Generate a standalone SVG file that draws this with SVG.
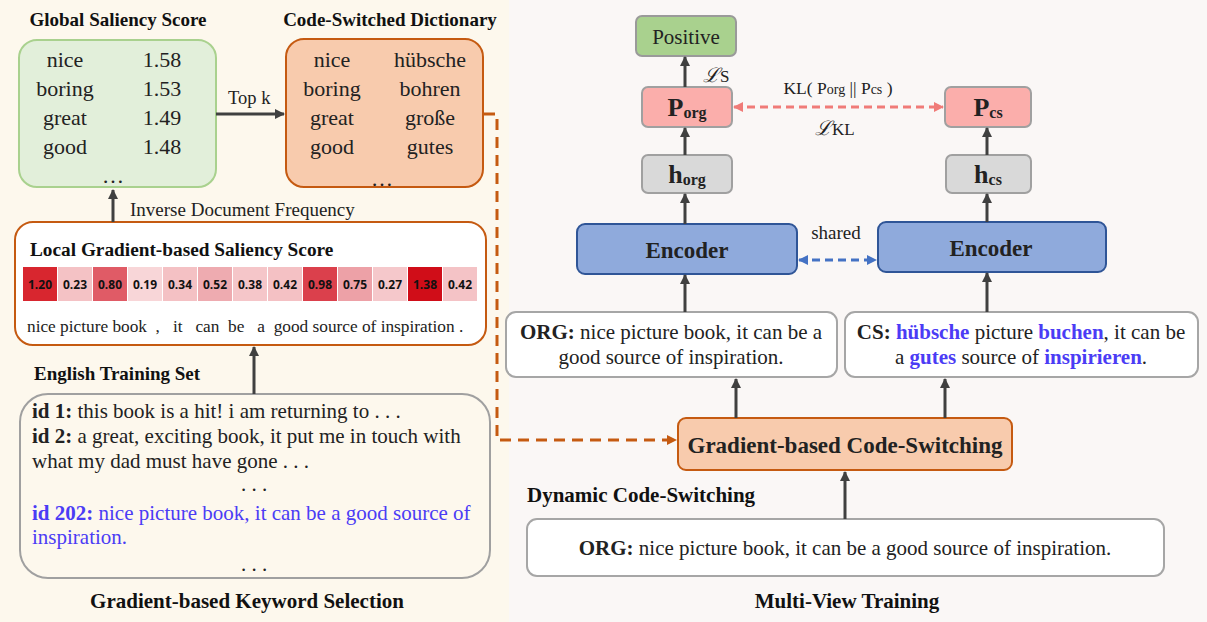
<svg xmlns="http://www.w3.org/2000/svg" width="1207" height="622" viewBox="0 0 1207 622">
<defs>
<marker id="ah" viewBox="0 0 10 10" refX="9" refY="5" markerWidth="10" markerHeight="10" markerUnits="userSpaceOnUse" orient="auto-start-reverse"><path d="M0,0 L10,5 L0,10 z" fill="#404040"/></marker>
<marker id="ahO" viewBox="0 0 10 10" refX="9" refY="5" markerWidth="10" markerHeight="10" markerUnits="userSpaceOnUse" orient="auto-start-reverse"><path d="M0,0 L10,5 L0,10 z" fill="#c55a11"/></marker>
<marker id="ahR" viewBox="0 0 10 10" refX="9" refY="5" markerWidth="10" markerHeight="10" markerUnits="userSpaceOnUse" orient="auto-start-reverse"><path d="M0,0 L10,5 L0,10 z" fill="#f07b78"/></marker>
<marker id="ahB" viewBox="0 0 10 10" refX="9" refY="5" markerWidth="10" markerHeight="10" markerUnits="userSpaceOnUse" orient="auto-start-reverse"><path d="M0,0 L10,5 L0,10 z" fill="#4472c4"/></marker>
</defs>
<style>
text{font-family:"Liberation Serif","Times New Roman",serif;fill:#222}
.t{font-size:21px}
.tb{font-size:19px;font-weight:bold;fill:#111}
.tb2{font-size:21px;font-weight:bold;fill:#111}
.big{font-size:22px}
.b{font-weight:bold}
.blue{fill:#4b3cf5}
.hm{font-family:"Open Sans","Liberation Sans",sans-serif;font-size:12px;font-weight:bold;text-anchor:middle;fill:#111}
.arr{stroke:#404040;stroke-width:3;fill:none}
.gbox{fill:#fff;stroke:#a6a6a6;stroke-width:2}
.mid{text-anchor:middle}
</style>
<rect x="0" y="0" width="509" height="622" fill="#fdf8ed"/>
<rect x="509" y="0" width="698" height="622" fill="#faf7f6"/>

<g id="global-saliency">
<text class="tb" x="118" y="26" text-anchor="middle">Global Saliency Score</text>
<rect x="19" y="40" width="197" height="147" rx="18" fill="#e2efda" stroke="#a9d18e" stroke-width="2"/>
<g class="big">
<text x="65" y="67" class="mid">nice</text><text x="162" y="67" class="mid">1.58</text>
<text x="65" y="96" class="mid">boring</text><text x="162" y="96" class="mid">1.53</text>
<text x="65" y="125" class="mid">great</text><text x="162" y="125" class="mid">1.49</text>
<text x="65" y="154" class="mid">good</text><text x="162" y="154" class="mid">1.48</text>
<text x="113" y="183" class="mid">…</text>
</g>
</g>

<g id="cs-dictionary">
<text class="tb" x="390" y="26" text-anchor="middle">Code-Switched Dictionary</text>
<rect x="286" y="39" width="197" height="148" rx="18" fill="#f8cbad" stroke="#c55a11" stroke-width="2"/>
<g class="big">
<text x="332" y="67" class="mid">nice</text><text x="430" y="67" class="mid">hübsche</text>
<text x="332" y="96" class="mid">boring</text><text x="430" y="96" class="mid">bohren</text>
<text x="332" y="125" class="mid">great</text><text x="430" y="125" class="mid">große</text>
<text x="332" y="154" class="mid">good</text><text x="430" y="154" class="mid">gutes</text>
<text x="382" y="186" class="mid">…</text>
</g>
</g>

<g id="local-saliency">
<rect x="15" y="222" width="471" height="123" rx="18" fill="#fff" stroke="#c55a11" stroke-width="2"/>
<text class="tb" x="30" y="256" style="font-size:19.3px">Local Gradient-based Saliency Score</text>
<g>
<rect x="23" y="267" width="34" height="34" fill="#d8262f"/>
<rect x="58" y="267" width="34" height="34" fill="#f4c2c5"/>
<rect x="93" y="267" width="34" height="34" fill="#e05b66"/>
<rect x="128" y="267" width="34" height="34" fill="#f8d6d8"/>
<rect x="163" y="267" width="34" height="34" fill="#f4c1c4"/>
<rect x="198" y="267" width="34" height="34" fill="#eeabb0"/>
<rect x="233" y="267" width="34" height="34" fill="#f5c6c9"/>
<rect x="268" y="267" width="34" height="34" fill="#f4c1c4"/>
<rect x="303" y="267" width="34" height="34" fill="#db404c"/>
<rect x="338" y="267" width="34" height="34" fill="#eda1a7"/>
<rect x="373" y="267" width="34" height="34" fill="#f5c8cb"/>
<rect x="408" y="267" width="34" height="34" fill="#d00d18"/>
<rect x="443" y="267" width="34" height="34" fill="#f4c3c6"/>
<text class="hm" x="40" y="289">1.20</text>
<text class="hm" x="75" y="289">0.23</text>
<text class="hm" x="110" y="289">0.80</text>
<text class="hm" x="145" y="289">0.19</text>
<text class="hm" x="180" y="289">0.34</text>
<text class="hm" x="215" y="289">0.52</text>
<text class="hm" x="250" y="289">0.38</text>
<text class="hm" x="285" y="289">0.42</text>
<text class="hm" x="320" y="289">0.98</text>
<text class="hm" x="355" y="289">0.75</text>
<text class="hm" x="390" y="289">0.27</text>
<text class="hm" x="425" y="289">1.38</text>
<text class="hm" x="460" y="289">0.42</text>
</g>
<text x="27" y="332" style="font-size:17.3px" xml:space="preserve">nice picture book  ,   it   can  be   a  good source of inspiration .</text>
</g>

<g id="training-set">
<text class="tb" x="34" y="380">English Training Set</text>
<rect x="20" y="394" width="470" height="184" rx="28" fill="#fdf8ed" stroke="#a0a0a0" stroke-width="2"/>
<text class="t" x="32" y="418"><tspan class="b">id 1:</tspan> this book is a hit! i am returning to . . .</text>
<text class="t" x="32" y="443"><tspan class="b">id 2:</tspan> a great, exciting book, it put me in touch with</text>
<text class="t" x="32" y="468">what my dad must have gone . . .</text>
<text class="t mid" x="254" y="491">. . .</text>
<text class="t blue" x="32" y="520"><tspan class="b blue">id 202:</tspan> nice picture book, it can be a good source of</text>
<text class="t blue" x="32" y="544">inspiration.</text>
<text class="t mid" x="254" y="571">. . .</text>
</g>

<text class="tb2" x="247" y="608" text-anchor="middle">Gradient-based Keyword Selection</text>

<g id="positive">
<rect x="636" y="16" width="100" height="40" rx="6" fill="#a9d18e" stroke="#9a9a9a" stroke-width="2"/>
<text x="686" y="44" class="mid" style="font-size:21px">Positive</text>
</g>
<g id="p-org">
<rect x="642" y="87" width="90" height="40" rx="6" fill="#fbaeab" stroke="#a0a0a0" stroke-width="2"/>
<text x="687" y="116" class="mid b" style="font-size:26px">P<tspan style="font-size:16px" dy="2">org</tspan></text>
</g>
<g id="p-cs">
<rect x="945" y="87" width="86" height="40" rx="6" fill="#fbaeab" stroke="#a0a0a0" stroke-width="2"/>
<text x="988" y="116" class="mid b" style="font-size:26px">P<tspan style="font-size:16px" dy="2">cs</tspan></text>
</g>
<g id="h-org">
<rect x="642" y="155" width="90" height="38" rx="6" fill="#d9d9d9" stroke="#a0a0a0" stroke-width="2"/>
<text x="687" y="183" class="mid b" style="font-size:26px">h<tspan style="font-size:16px" dy="2">org</tspan></text>
</g>
<g id="h-cs">
<rect x="946" y="155" width="85" height="38" rx="6" fill="#d9d9d9" stroke="#a0a0a0" stroke-width="2"/>
<text x="988" y="183" class="mid b" style="font-size:26px">h<tspan style="font-size:16px" dy="2">cs</tspan></text>
</g>
<g id="encoder-org">
<rect x="577" y="224" width="220" height="50" rx="8" fill="#8faadc" stroke="#2f5597" stroke-width="2"/>
<text x="687" y="258" class="mid b" style="font-size:23px">Encoder</text>
</g>
<g id="encoder-cs">
<rect x="878" y="222" width="228" height="50" rx="8" fill="#8faadc" stroke="#2f5597" stroke-width="2"/>
<text x="991" y="256" class="mid b" style="font-size:23px">Encoder</text>
</g>
<g id="org-view">
<rect x="506" y="312" width="331" height="65" rx="10" class="gbox"/>
<text x="671" y="339" class="mid t"><tspan class="b">ORG:</tspan> nice picture book, it can be a</text>
<text x="671" y="364" class="mid t">good source of inspiration.</text>
</g>
<g id="cs-view">
<rect x="845" y="312" width="353" height="65" rx="10" class="gbox"/>
<text x="1021" y="339" class="mid t"><tspan class="b">CS:</tspan> <tspan class="b blue">hübsche</tspan> picture <tspan class="b blue">buchen</tspan>, it can be</text>
<text x="1021" y="364" class="mid t">a <tspan class="b blue">gutes</tspan> source of <tspan class="b blue">inspirieren</tspan>.</text>
</g>
<g id="gcs">
<rect x="678" y="418" width="334" height="52" rx="8" fill="#f8cbad" stroke="#c55a11" stroke-width="2"/>
<text x="845" y="453" class="mid b" style="font-size:23px">Gradient-based Code-Switching</text>
</g>
<text class="tb2" x="527" y="502">Dynamic Code-Switching</text>
<g id="org-input">
<rect x="527" y="519" width="637" height="57" rx="10" class="gbox"/>
<text x="845" y="555" class="mid t"><tspan class="b">ORG:</tspan> nice picture book, it can be a good source of inspiration.</text>
</g>
<text class="tb2" x="847" y="608" text-anchor="middle">Multi-View Training</text>

<g id="connectors">
<line class="arr" x1="216" y1="114" x2="284" y2="114" marker-end="url(#ah)"/>
<text x="228" y="104" style="font-size:18.5px">Top k</text>
<line class="arr" x1="113" y1="222" x2="113" y2="190" marker-end="url(#ah)"/>
<text x="130" y="216" style="font-size:19px">Inverse Document Frequency</text>
<line class="arr" x1="254" y1="394" x2="254" y2="347" marker-end="url(#ah)"/>
<path d="M484,114 H497 V440 H676" fill="none" stroke="#c55a11" stroke-width="3" stroke-dasharray="11 7" marker-end="url(#ahO)"/>
<line class="arr" x1="685" y1="87" x2="685" y2="57" marker-end="url(#ah)"/>
<text x="703" y="82" style="font-size:20px;font-style:italic">ℒ<tspan style="font-style:normal;font-size:17px">S</tspan></text>
<line x1="734" y1="107" x2="943" y2="107" stroke="#f07b78" stroke-width="3" stroke-dasharray="8 5" marker-start="url(#ahR)" marker-end="url(#ahR)"/>
<text x="838" y="94" class="mid" style="font-size:17.5px">KL( P<tspan style="font-size:14px">org</tspan> || P<tspan style="font-size:14px">cs</tspan> )</text>
<text x="815" y="135" style="font-size:20px;font-style:italic">ℒ<tspan style="font-style:normal;font-size:17px">KL</tspan></text>
<line class="arr" x1="685" y1="155" x2="685" y2="128" marker-end="url(#ah)"/>
<line class="arr" x1="987" y1="155" x2="987" y2="128" marker-end="url(#ah)"/>
<line class="arr" x1="685" y1="224" x2="685" y2="194" marker-end="url(#ah)"/>
<line class="arr" x1="987" y1="222" x2="987" y2="194" marker-end="url(#ah)"/>
<line x1="799" y1="260" x2="876" y2="260" stroke="#4472c4" stroke-width="3" stroke-dasharray="8 5" marker-start="url(#ahB)" marker-end="url(#ahB)"/>
<text x="836" y="239" class="mid" style="font-size:19px">shared</text>
<line class="arr" x1="685" y1="312" x2="685" y2="275" marker-end="url(#ah)"/>
<line class="arr" x1="987" y1="312" x2="987" y2="273" marker-end="url(#ah)"/>
<line class="arr" x1="736" y1="418" x2="736" y2="379" marker-end="url(#ah)"/>
<line class="arr" x1="945" y1="418" x2="945" y2="379" marker-end="url(#ah)"/>
<line class="arr" x1="845" y1="519" x2="845" y2="472" marker-end="url(#ah)"/>
</g>
</svg>
